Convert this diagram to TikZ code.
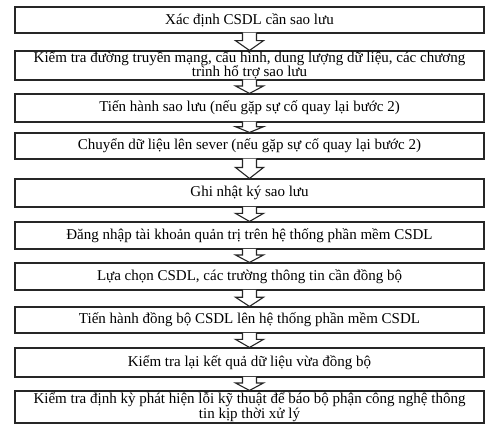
\documentclass[tikz,border=0pt]{standalone}
\usepackage{fontspec}
\setmainfont{Liberation Serif}
\usetikzlibrary{calc}
\tikzset{
  stepbox/.style={draw=black!85, line width=1.1pt, fill=white, minimum width=469pt,
    inner sep=0pt, align=center, text=black,
    font=\fontsize{15}{14.5}\selectfont},
  flowarrow/.style={draw=black!85, line width=1.1pt, fill=white, line join=miter}
}
\newcommand\downarrowbetween[2]{%
  \filldraw[flowarrow] let \p1=(#1.south), \p2=(#2.north), \n1={(\y1-\y2)*0.42} in
    (\x1-7pt,\y1+0.8pt) -- (\x1-7pt,\y1-\n1) -- (\x1-14pt,\y1-\n1) -- (\x1,\y2)
    -- (\x1+14pt,\y1-\n1) -- (\x1+7pt,\y1-\n1) -- (\x1+7pt,\y1+0.8pt);}
\begin{document}
\begin{tikzpicture}[x=1pt,y=1pt]
\useasboundingbox (0,0) rectangle (500,429);
\fill[white] (0,0) rectangle (500,429);
\node[stepbox, minimum height=26pt] (b1) at (249.5,409) {Xác định CSDL cần sao lưu};
\node[stepbox, minimum height=29pt] (b2) at (249.5,363.5) {Kiểm tra đường truyền mạng, cấu hình, dung lượng dữ liệu, các chương\\trình hổ trợ sao lưu};
\node[stepbox, minimum height=28pt] (b3) at (249.5,321) {Tiến hành sao lưu (nếu gặp sự cố quay lại bước 2)};
\node[stepbox, minimum height=26pt] (b4) at (249.5,283) {Chuyển dữ liệu lên sever (nếu gặp sự cố quay lại bước 2)};
\node[stepbox, minimum height=28pt] (b5) at (249.5,236) {Ghi nhật ký sao lưu};
\node[stepbox, minimum height=27pt] (b6) at (249.5,193.5) {Đăng nhập tài khoản quản trị trên hệ thống phần mềm CSDL};
\node[stepbox, minimum height=27pt] (b7) at (249.5,152.5) {Lựa chọn CSDL, các trường thông tin cần đồng bộ};
\node[stepbox, minimum height=26pt] (b8) at (249.5,109) {Tiến hành đồng bộ CSDL lên hệ thống phần mềm CSDL};
\node[stepbox, minimum height=29pt] (b9) at (249.5,66.5) {Kiểm tra lại kết quả dữ liệu vừa đồng bộ};
\node[stepbox, minimum height=32pt] (b10) at (249.5,22) {Kiểm tra định kỳ phát hiện lỗi kỹ thuật để báo bộ phận công nghệ thông\\tin kịp thời xử lý};
\downarrowbetween{b1}{b2}
\downarrowbetween{b2}{b3}
\downarrowbetween{b3}{b4}
\downarrowbetween{b4}{b5}
\downarrowbetween{b5}{b6}
\downarrowbetween{b6}{b7}
\downarrowbetween{b7}{b8}
\downarrowbetween{b8}{b9}
\downarrowbetween{b9}{b10}
\end{tikzpicture}
\end{document}
